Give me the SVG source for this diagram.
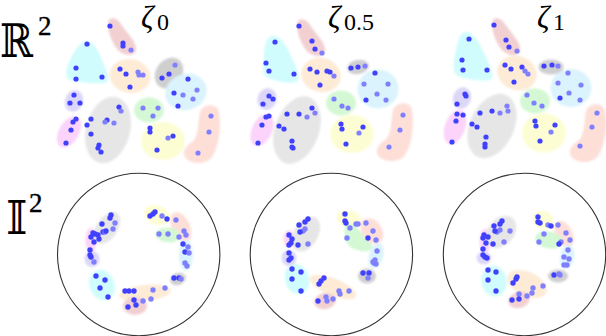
<svg xmlns="http://www.w3.org/2000/svg" width="606" height="336" viewBox="0 0 606 336">
<defs>
<filter id="soft" x="-20%" y="-20%" width="140%" height="140%"><feGaussianBlur stdDeviation="0.8"/></filter>
<style>
.blobs{filter:url(#soft)}
.ro{fill:#f2d0d2}.cy{fill:#d0fcfd}.or{fill:#fdebd6}.dg{fill:#cfcfcf}.lb{fill:#daf3fd}
.pu{fill:#dcd6f8}.gr{fill:#e6e6e6}.gn{fill:#d3f8d3}.ma{fill:#fbd3fb}.ye{fill:#fdfdd3}.sa{fill:#fddfd8}
.d{fill:#4040ff}.l{fill:#8080ff}
.top circle{r:2.6px}
.bot circle.d,.bot circle.l{r:2.7px}
.frame{fill:none;stroke:#333;stroke-width:1.1}
.lab{font-family:"DejaVu Serif","Liberation Serif",serif;fill:#000}
.zeta{font-family:"Liberation Serif","DejaVu Serif",serif;font-style:italic;fill:#000}
.sub{font-family:"Liberation Serif","DejaVu Serif",serif;fill:#000}
</style>
</defs>
<rect width="606" height="336" fill="#fff"/>

<g id="labels">
<text class="lab" x="0" y="57" font-size="46" textLength="33" lengthAdjust="spacingAndGlyphs">ℝ</text>
<text class="sub" x="38" y="35" font-size="27" stroke="#000" stroke-width="0.4">2</text>
<text class="lab" x="6" y="234" font-size="46">𝕀</text>
<text class="sub" x="29" y="212" font-size="27" stroke="#000" stroke-width="0.4">2</text>
<text class="zeta" x="141" y="28" font-size="31">ζ</text>
<text class="sub" x="157" y="30" font-size="24">0</text>
<text class="zeta" x="328" y="28" font-size="31">ζ</text>
<text class="sub" x="344" y="30" font-size="24">0.5</text>
<text class="zeta" x="537" y="28" font-size="31">ζ</text>
<text class="sub" x="553" y="30" font-size="24">1</text>
</g>

<!-- top row, zeta_0 -->
<g id="r2-z0" class="top">
<g class="blobs">
<path class="ro" d="M108,24 C108,16 117,17 121,24 C127,33 138,43 136,51 C134,57 122,56 117,49 C111,41 108,31 108,24 Z"/>
<path class="cy" d="M86,41 C93,40 98,50 103,62 C107,72 112,82 104,83 C94,84 78,82 70,80 C64,78 66,68 70,60 C75,50 80,42 86,41 Z"/>
<ellipse class="or" cx="130" cy="76" rx="20.5" ry="17" transform="rotate(10 130 76)"/>
<ellipse class="dg" cx="169" cy="73" rx="13" ry="16.5" transform="rotate(35 169 73)"/>
<ellipse class="lb" cx="186" cy="92" rx="21" ry="18" transform="rotate(-20 186 92)"/>
<ellipse class="pu" cx="74" cy="101" rx="9" ry="11" transform="rotate(20 74 101)"/>
<ellipse class="gr" cx="108" cy="130" rx="22" ry="34" transform="rotate(15 108 130)"/>
<ellipse class="gn" cx="149" cy="110" rx="15" ry="12.5"/>
<ellipse class="ma" cx="69" cy="132" rx="10" ry="17" transform="rotate(30 69 132)"/>
<ellipse class="ye" cx="163" cy="141" rx="22" ry="19"/>
<path class="sa" d="M200,112 C203,103 218,103 219,112 C221,125 220,145 212,157 C206,165 190,165 185,157 C181,150 188,145 194,140 C199,133 198,120 200,112 Z"/>
</g>
<g>
<circle class="d" cx="110" cy="26" r="2.4"/><circle class="d" cx="123" cy="43" r="2.4"/><circle class="d" cx="123" cy="46" r="2.4"/><circle class="l" cx="131" cy="50" r="2.4"/>
<circle class="d" cx="87" cy="44" r="2.4"/><circle class="d" cx="76" cy="68" r="2.4"/><circle class="d" cx="76" cy="79" r="2.4"/><circle class="d" cx="102" cy="77" r="2.4"/>
<circle class="d" cx="120" cy="69" r="2.4"/><circle class="d" cx="126" cy="74" r="2.4"/><circle class="l" cx="138" cy="72" r="2.4"/><circle class="l" cx="139" cy="75" r="2.4"/><circle class="l" cx="143" cy="75" r="2.4"/><circle class="d" cx="130" cy="87" r="2.4"/>
<circle class="l" cx="175" cy="65" r="2.4"/><circle class="d" cx="169" cy="74" r="2.4"/><circle class="d" cx="162" cy="78" r="2.4"/>
<circle class="d" cx="188" cy="79" r="2.4"/><circle class="l" cx="197" cy="90" r="2.4"/><circle class="d" cx="174" cy="93" r="2.4"/><circle class="l" cx="183" cy="95" r="2.4"/><circle class="l" cx="193" cy="99" r="2.4"/><circle class="d" cx="178" cy="106" r="2.4"/>
<circle class="d" cx="74" cy="95" r="2.4"/><circle class="d" cx="70" cy="103" r="2.4"/><circle class="d" cx="80" cy="103" r="2.4"/>
<circle class="d" cx="119" cy="107" r="2.4"/><circle class="l" cx="121" cy="111" r="2.4"/><circle class="d" cx="91" cy="119" r="2.4"/><circle class="d" cx="87" cy="125" r="2.4"/><circle class="d" cx="107" cy="120" r="2.4"/><circle class="l" cx="105" cy="122" r="2.4"/><circle class="l" cx="114" cy="123" r="2.4"/><circle class="d" cx="91" cy="134" r="2.4"/><circle class="d" cx="99" cy="145" r="2.4"/><circle class="d" cx="98" cy="148" r="2.4"/><circle class="d" cx="101" cy="152" r="2.4"/>
<circle class="l" cx="143" cy="108" r="2.4"/><circle class="l" cx="158" cy="108" r="2.4"/><circle class="l" cx="153" cy="116" r="2.4"/>
<circle class="d" cx="76" cy="119" r="2.4"/><circle class="d" cx="73" cy="122" r="2.4"/><circle class="d" cx="71" cy="130" r="2.4"/><circle class="d" cx="66" cy="143" r="2.4"/>
<circle class="d" cx="150" cy="128" r="2.4"/><circle class="d" cx="150" cy="132" r="2.4"/><circle class="d" cx="173" cy="136" r="2.4"/><circle class="l" cx="168" cy="138" r="2.4"/><circle class="d" cx="157" cy="150" r="2.4"/>
<circle class="l" cx="211" cy="116" r="2.4"/><circle class="l" cx="209" cy="132" r="2.4"/><circle class="l" cx="198" cy="153" r="2.4"/>
</g>
</g>

<!-- top row, zeta_0.5 -->
<g id="r2-z05" class="top">
<g class="blobs">
<path class="ro" transform="translate(189,1)" d="M108,24 C108,16 117,17 121,24 C127,33 138,43 136,51 C134,57 122,56 117,49 C111,41 108,31 108,24 Z"/>
<path class="cy" d="M272,36 C280,34 286,45 291,56 C296,66 302,80 296,82 C288,84 275,81 268,78 C261,75 263,62 264,54 C265,45 266,37 272,36 Z"/>
<ellipse class="or" cx="321" cy="75" rx="20" ry="17" transform="rotate(15 321 75)"/>
<ellipse class="dg" cx="358" cy="67" rx="11" ry="7" transform="rotate(-10 358 67)"/>
<ellipse class="lb" cx="378" cy="89" rx="20.5" ry="19.5"/>
<ellipse class="pu" cx="267" cy="99" rx="9.5" ry="11" transform="rotate(20 267 99)"/>
<ellipse class="gr" cx="297" cy="130" rx="22" ry="35" transform="rotate(20 297 130)"/>
<ellipse class="gn" cx="341" cy="103" rx="15" ry="12.5"/>
<ellipse class="ma" cx="262" cy="130" rx="10" ry="17" transform="rotate(25 262 130)"/>
<ellipse class="ye" cx="352" cy="134" rx="22" ry="19"/>
<path class="sa" transform="translate(193,-2)" d="M200,112 C203,103 218,103 219,112 C221,125 220,145 212,157 C206,165 190,165 185,157 C181,150 188,145 194,140 C199,133 198,120 200,112 Z"/>
</g>
<g>
<circle class="d" cx="299" cy="26" r="2.4"/><circle class="d" cx="312" cy="41" r="2.4"/><circle class="d" cx="315" cy="49" r="2.4"/><circle class="l" cx="322" cy="53" r="2.4"/>
<circle class="d" cx="275" cy="42" r="2.4"/><circle class="d" cx="266" cy="63" r="2.4"/><circle class="d" cx="269" cy="71" r="2.4"/><circle class="d" cx="294" cy="74" r="2.4"/>
<circle class="d" cx="310" cy="69" r="2.4"/><circle class="d" cx="317" cy="72" r="2.4"/><circle class="d" cx="327" cy="71" r="2.4"/><circle class="d" cx="330" cy="72" r="2.4"/><circle class="l" cx="334" cy="76" r="2.4"/><circle class="d" cx="320" cy="85" r="2.4"/>
<circle class="d" cx="351" cy="68" r="2.4"/><circle class="d" cx="358" cy="67" r="2.4"/><circle class="l" cx="365" cy="66" r="2.4"/>
<circle class="d" cx="375" cy="73" r="2.4"/><circle class="l" cx="364" cy="84" r="2.4"/><circle class="l" cx="388" cy="84" r="2.4"/><circle class="l" cx="377" cy="94" r="2.4"/><circle class="d" cx="366" cy="100" r="2.4"/><circle class="l" cx="386" cy="100" r="2.4"/>
<circle class="d" cx="269" cy="96" r="2.4"/><circle class="d" cx="273" cy="99" r="2.4"/><circle class="d" cx="263" cy="104" r="2.4"/>
<circle class="d" cx="312" cy="108" r="2.4"/><circle class="l" cx="315" cy="113" r="2.4"/><circle class="d" cx="287" cy="114" r="2.4"/><circle class="d" cx="299" cy="114" r="2.4"/><circle class="l" cx="307" cy="117" r="2.4"/><circle class="d" cx="279" cy="126" r="2.4"/><circle class="d" cx="284" cy="129" r="2.4"/><circle class="d" cx="292" cy="141" r="2.4"/><circle class="d" cx="292" cy="147" r="2.4"/><circle class="d" cx="293" cy="148" r="2.4"/>
<circle class="l" cx="334" cy="99" r="2.4"/><circle class="l" cx="342" cy="106" r="2.4"/><circle class="l" cx="348" cy="108" r="2.4"/>
<circle class="d" cx="269" cy="116" r="2.4"/><circle class="d" cx="266" cy="117" r="2.4"/><circle class="d" cx="262" cy="125" r="2.4"/><circle class="d" cx="258" cy="143" r="2.4"/>
<circle class="d" cx="341" cy="124" r="2.4"/><circle class="d" cx="342" cy="129" r="2.4"/><circle class="d" cx="363" cy="127" r="2.4"/><circle class="l" cx="359" cy="133" r="2.4"/><circle class="d" cx="346" cy="144" r="2.4"/>
<circle class="l" cx="403" cy="115" r="2.4"/><circle class="l" cx="400" cy="130" r="2.4"/><circle class="l" cx="389" cy="147" r="2.4"/>
</g>
</g>

<!-- top row, zeta_1 -->
<g id="r2-z1" class="top">
<g class="blobs">
<path class="ro" transform="translate(384,0)" d="M108,24 C108,16 117,17 121,24 C127,33 138,43 136,51 C134,57 122,56 117,49 C111,41 108,31 108,24 Z"/>
<path class="cy" d="M465,32 C473,31 479,42 484,53 C489,63 496,77 490,80 C482,82 468,79 460,77 C452,75 453,64 455,55 C457,45 459,33 465,32 Z"/>
<ellipse class="or" cx="517" cy="73" rx="20" ry="17" transform="rotate(20 517 73)"/>
<ellipse class="dg" cx="551" cy="67" rx="12.5" ry="7.5"/>
<ellipse class="lb" cx="571" cy="88" rx="20.5" ry="19"/>
<ellipse class="pu" cx="462" cy="98" rx="9" ry="11" transform="rotate(20 462 98)"/>
<ellipse class="gr" cx="492" cy="126" rx="22" ry="34" transform="rotate(25 492 126)"/>
<ellipse class="gn" cx="535" cy="101" rx="15" ry="12.5"/>
<ellipse class="ma" cx="455" cy="127" rx="10" ry="18" transform="rotate(20 455 127)"/>
<ellipse class="ye" cx="544" cy="133" rx="22" ry="19.5"/>
<path class="sa" transform="translate(386,-1)" d="M200,112 C203,103 218,103 219,112 C221,125 220,145 212,157 C206,165 190,165 185,157 C181,150 188,145 194,140 C199,133 198,120 200,112 Z"/>
</g>
<g>
<circle class="d" cx="494" cy="25" r="2.4"/><circle class="d" cx="506" cy="40" r="2.4"/><circle class="d" cx="509" cy="47" r="2.4"/><circle class="l" cx="517" cy="51" r="2.4"/>
<circle class="d" cx="469" cy="39" r="2.4"/><circle class="d" cx="462" cy="60" r="2.4"/><circle class="d" cx="463" cy="70" r="2.4"/><circle class="d" cx="487" cy="70" r="2.4"/>
<circle class="d" cx="505" cy="65" r="2.4"/><circle class="d" cx="511" cy="69" r="2.4"/><circle class="d" cx="522" cy="67" r="2.4"/><circle class="l" cx="525" cy="71" r="2.4"/><circle class="l" cx="528" cy="74" r="2.4"/><circle class="d" cx="514" cy="82" r="2.4"/>
<circle class="d" cx="544" cy="66" r="2.4"/><circle class="d" cx="552" cy="65" r="2.4"/><circle class="l" cx="558" cy="66" r="2.4"/>
<circle class="l" cx="568" cy="73" r="2.4"/><circle class="l" cx="558" cy="83" r="2.4"/><circle class="l" cx="581" cy="85" r="2.4"/><circle class="l" cx="569" cy="93" r="2.4"/><circle class="d" cx="560" cy="98" r="2.4"/><circle class="l" cx="580" cy="100" r="2.4"/>
<circle class="d" cx="465" cy="94" r="2.4"/><circle class="d" cx="466" cy="96" r="2.4"/><circle class="d" cx="457" cy="104" r="2.4"/>
<circle class="l" cx="507" cy="106" r="2.4"/><circle class="l" cx="508" cy="111" r="2.4"/><circle class="d" cx="492" cy="111" r="2.4"/><circle class="l" cx="500" cy="113" r="2.4"/><circle class="d" cx="480" cy="113" r="2.4"/><circle class="d" cx="472" cy="124" r="2.4"/><circle class="d" cx="477" cy="127" r="2.4"/><circle class="d" cx="486" cy="137" r="2.4"/><circle class="d" cx="485" cy="144" r="2.4"/><circle class="d" cx="485" cy="147" r="2.4"/>
<circle class="l" cx="527" cy="95" r="2.4"/><circle class="l" cx="534" cy="103" r="2.4"/><circle class="l" cx="542" cy="106" r="2.4"/>
<circle class="d" cx="457" cy="114" r="2.4"/><circle class="d" cx="463" cy="115" r="2.4"/><circle class="d" cx="456" cy="121" r="2.4"/><circle class="d" cx="452" cy="142" r="2.4"/>
<circle class="d" cx="535" cy="121" r="2.4"/><circle class="d" cx="536" cy="126" r="2.4"/><circle class="d" cx="555" cy="125" r="2.4"/><circle class="l" cx="551" cy="132" r="2.4"/><circle class="d" cx="540" cy="141" r="2.4"/>
<circle class="l" cx="597" cy="113" r="2.4"/><circle class="l" cx="592" cy="127" r="2.4"/><circle class="l" cx="580" cy="146" r="2.4"/>
</g>
</g>

<!-- bottom row, zeta_0 -->
<g id="i2-z0" class="bot">
<circle class="frame" cx="138.7" cy="254.5" r="81.2"/>
<g class="blobs">
<ellipse class="ye" cx="157" cy="215" rx="13.5" ry="9.5" transform="rotate(20 157 215)"/>
<ellipse class="sa" cx="181" cy="227" rx="9" ry="16" transform="rotate(-25 181 227)"/>
<ellipse class="gn" cx="168" cy="235" rx="12.5" ry="7.5" transform="rotate(5 168 235)"/>
<ellipse class="lb" cx="186" cy="255" rx="7" ry="15.5"/>
<ellipse class="dg" cx="178" cy="279" rx="8" ry="6" transform="rotate(-20 178 279)"/>
<ellipse class="or" cx="145" cy="293" rx="26" ry="8" transform="rotate(-6 145 293)"/>
<ellipse class="ro" cx="135" cy="306" rx="12" ry="9"/>
<ellipse class="cy" cx="102" cy="285" rx="12.5" ry="15.5" transform="rotate(-20 102 285)"/>
<ellipse class="pu" cx="92" cy="259" rx="7.5" ry="8"/>
<ellipse class="ma" cx="91" cy="240" rx="5.5" ry="12"/>
<ellipse class="gr" cx="107" cy="228" rx="10.5" ry="18" transform="rotate(35 107 228)"/>
</g>
<g>
<circle class="d" cx="155" cy="212" r="2.5"/><circle class="d" cx="153" cy="214" r="2.5"/><circle class="d" cx="150" cy="216" r="2.5"/><circle class="l" cx="162" cy="216" r="2.5"/><circle class="d" cx="167" cy="219" r="2.5"/>
<circle class="l" cx="176" cy="220" r="2.5"/><circle class="l" cx="184" cy="231" r="2.5"/><circle class="l" cx="186" cy="235" r="2.5"/>
<circle class="l" cx="159" cy="234" r="2.5"/><circle class="l" cx="168" cy="234" r="2.5"/><circle class="l" cx="179" cy="237" r="2.5"/>
<circle class="d" cx="183" cy="244" r="2.5"/><circle class="l" cx="188" cy="247" r="2.5"/><circle class="d" cx="185" cy="252" r="2.5"/><circle class="l" cx="189" cy="253" r="2.5"/><circle class="l" cx="185" cy="263" r="2.5"/><circle class="l" cx="187" cy="266" r="2.5"/>
<circle class="d" cx="174" cy="278" r="2.5"/><circle class="d" cx="179" cy="278" r="2.5"/><circle class="l" cx="181" cy="279" r="2.5"/>
<circle class="d" cx="125" cy="291" r="2.5"/><circle class="d" cx="129" cy="291" r="2.5"/><circle class="d" cx="134" cy="291" r="2.5"/><circle class="l" cx="153" cy="290" r="2.5"/><circle class="l" cx="165" cy="288" r="2.5"/><circle class="l" cx="151" cy="299" r="2.5"/><circle class="l" cx="143" cy="301" r="2.5"/>
<circle class="d" cx="134" cy="300" r="2.5"/><circle class="d" cx="136" cy="305" r="2.5"/><circle class="d" cx="128" cy="307" r="2.5"/>
<circle class="d" cx="96" cy="276" r="2.5"/><circle class="d" cx="105" cy="280" r="2.5"/><circle class="d" cx="100" cy="288" r="2.5"/><circle class="d" cx="108" cy="297" r="2.5"/>
<circle class="d" cx="90" cy="255" r="2.5"/><circle class="d" cx="91" cy="257" r="2.5"/><circle class="l" cx="94" cy="262" r="2.5"/>
<circle class="d" cx="93" cy="233" r="2.5"/><circle class="d" cx="95" cy="234" r="2.5"/><circle class="d" cx="91" cy="237" r="2.5"/><circle class="d" cx="94" cy="242" r="2.5"/><circle class="d" cx="90" cy="250" r="2.5"/>
<circle class="d" cx="111" cy="215" r="2.5"/><circle class="d" cx="110" cy="218" r="2.5"/><circle class="l" cx="115" cy="223" r="2.5"/><circle class="d" cx="102" cy="224" r="2.5"/><circle class="d" cx="103" cy="232" r="2.5"/><circle class="l" cx="105" cy="232" r="2.5"/><circle class="d" cx="106" cy="231" r="2.5"/><circle class="l" cx="113" cy="229" r="2.5"/><circle class="d" cx="99" cy="239" r="2.5"/><circle class="d" cx="98" cy="235" r="2.5"/>
</g>
</g>

<!-- bottom row, zeta_0.5 -->
<g id="i2-z05" class="bot">
<circle class="frame" cx="331.4" cy="254.5" r="81.2"/>
<g class="blobs">
<ellipse class="ye" cx="349" cy="219" rx="12.5" ry="8.5" transform="rotate(15 349 219)"/>
<path class="gn" d="M348,224 C355,222 360,232 366,238 C372,243 376,249 368,251 C358,252 346,248 345,238 C344,231 344,226 348,224 Z"/>
<ellipse class="sa" cx="372" cy="231" rx="10" ry="14" transform="rotate(-35 372 231)"/>
<ellipse class="lb" cx="376" cy="256" rx="7" ry="13" transform="rotate(15 376 256)"/>
<ellipse class="dg" cx="367" cy="276" rx="9" ry="7.5"/>
<ellipse class="or" cx="333" cy="287" rx="25" ry="8.5" transform="rotate(22 333 287)"/>
<ellipse class="ro" cx="325" cy="301" rx="11" ry="8" transform="rotate(-10 325 301)"/>
<ellipse class="cy" cx="297" cy="279" rx="12" ry="15.5" transform="rotate(-15 297 279)"/>
<ellipse class="pu" cx="289" cy="258" rx="7.5" ry="8"/>
<ellipse class="ma" cx="289" cy="239" rx="5.5" ry="9"/>
<ellipse class="gr" cx="306" cy="234" rx="12" ry="19" transform="rotate(30 306 234)"/>
</g>
<g>
<circle class="d" cx="345" cy="214" r="2.5"/><circle class="d" cx="345" cy="221" r="2.5"/><circle class="d" cx="346" cy="223" r="2.5"/><circle class="l" cx="356" cy="224" r="2.5"/><circle class="l" cx="358" cy="224" r="2.5"/>
<circle class="l" cx="350" cy="228" r="2.5"/><circle class="l" cx="347" cy="238" r="2.5"/>
<circle class="l" cx="366" cy="223" r="2.5"/><circle class="l" cx="373" cy="231" r="2.5"/><circle class="l" cx="376" cy="240" r="2.5"/><circle class="d" cx="368" cy="238" r="2.5"/>
<circle class="l" cx="377" cy="251" r="2.5"/><circle class="l" cx="375" cy="260" r="2.5"/><circle class="l" cx="374" cy="263" r="2.5"/><circle class="l" cx="376" cy="264" r="2.5"/><circle class="l" cx="373" cy="262" r="2.5"/>
<circle class="d" cx="363" cy="273" r="2.5"/><circle class="d" cx="369" cy="273" r="2.5"/><circle class="l" cx="368" cy="278" r="2.5"/>
<circle class="d" cx="324" cy="278" r="2.5"/><circle class="d" cx="321" cy="281" r="2.5"/><circle class="d" cx="319" cy="284" r="2.5"/><circle class="l" cx="339" cy="291" r="2.5"/><circle class="l" cx="340" cy="294" r="2.5"/><circle class="l" cx="349" cy="291" r="2.5"/>
<circle class="d" cx="318" cy="301" r="2.5"/><circle class="l" cx="326" cy="297" r="2.5"/><circle class="l" cx="327" cy="301" r="2.5"/><circle class="l" cx="333" cy="299" r="2.5"/>
<circle class="d" cx="292" cy="269" r="2.5"/><circle class="d" cx="301" cy="272" r="2.5"/><circle class="d" cx="292" cy="279" r="2.5"/><circle class="d" cx="301" cy="291" r="2.5"/>
<circle class="d" cx="289" cy="253" r="2.5"/><circle class="d" cx="291" cy="258" r="2.5"/><circle class="d" cx="289" cy="260" r="2.5"/>
<circle class="d" cx="289" cy="235" r="2.5"/><circle class="d" cx="292" cy="239" r="2.5"/><circle class="d" cx="289" cy="245" r="2.5"/><circle class="d" cx="291" cy="243" r="2.5"/>
<circle class="d" cx="308" cy="219" r="2.5"/><circle class="d" cx="305" cy="222" r="2.5"/><circle class="d" cx="299" cy="225" r="2.5"/><circle class="l" cx="305" cy="229" r="2.5"/><circle class="l" cx="303" cy="231" r="2.5"/><circle class="d" cx="300" cy="232" r="2.5"/><circle class="d" cx="298" cy="245" r="2.5"/><circle class="l" cx="308" cy="244" r="2.5"/>
</g>
</g>

<!-- bottom row, zeta_1 -->
<g id="i2-z1" class="bot">
<circle class="frame" cx="524.5" cy="254.5" r="81.2"/>
<g class="blobs">
<ellipse class="ye" cx="543" cy="220" rx="10.5" ry="9" transform="rotate(20 543 220)"/>
<ellipse class="sa" cx="564" cy="234" rx="8.5" ry="14" transform="rotate(-25 564 234)"/>
<ellipse class="gn" cx="549" cy="240" rx="14" ry="8.5" transform="rotate(10 549 240)"/>
<ellipse class="lb" cx="567" cy="257" rx="7" ry="12" transform="rotate(10 567 257)"/>
<ellipse class="dg" cx="558" cy="276" rx="10" ry="6.5"/>
<ellipse class="or" cx="527" cy="284" rx="21" ry="12" transform="rotate(25 527 284)"/>
<ellipse class="ro" cx="519" cy="300" rx="11" ry="8" transform="rotate(-15 519 300)"/>
<ellipse class="cy" cx="494" cy="281" rx="12.5" ry="15.5" transform="rotate(-10 494 281)"/>
<ellipse class="pu" cx="484" cy="258" rx="7.5" ry="6.5"/>
<ellipse class="ma" cx="485" cy="241" rx="5.5" ry="12"/>
<ellipse class="gr" cx="501" cy="232" rx="13" ry="18" transform="rotate(40 501 232)"/>
</g>
<g>
<circle class="d" cx="538" cy="217" r="2.5"/><circle class="d" cx="538" cy="222" r="2.5"/><circle class="d" cx="540" cy="223" r="2.5"/><circle class="l" cx="548" cy="225" r="2.5"/><circle class="d" cx="551" cy="226" r="2.5"/>
<circle class="l" cx="558" cy="225" r="2.5"/><circle class="l" cx="566" cy="233" r="2.5"/><circle class="l" cx="570" cy="240" r="2.5"/><circle class="l" cx="561" cy="242" r="2.5"/>
<circle class="l" cx="544" cy="234" r="2.5"/><circle class="l" cx="539" cy="242" r="2.5"/><circle class="d" cx="559" cy="244" r="2.5"/>
<circle class="l" cx="568" cy="250" r="2.5"/><circle class="l" cx="564" cy="257" r="2.5"/><circle class="l" cx="569" cy="259" r="2.5"/><circle class="l" cx="564" cy="265" r="2.5"/><circle class="l" cx="567" cy="265" r="2.5"/>
<circle class="d" cx="554" cy="275" r="2.5"/><circle class="l" cx="559" cy="274" r="2.5"/><circle class="l" cx="560" cy="275" r="2.5"/>
<circle class="d" cx="517" cy="277" r="2.5"/><circle class="d" cx="516" cy="279" r="2.5"/><circle class="d" cx="513" cy="283" r="2.5"/><circle class="l" cx="533" cy="288" r="2.5"/><circle class="l" cx="532" cy="293" r="2.5"/><circle class="l" cx="543" cy="286" r="2.5"/>
<circle class="d" cx="512" cy="300" r="2.5"/><circle class="l" cx="519" cy="294" r="2.5"/><circle class="d" cx="519" cy="299" r="2.5"/><circle class="l" cx="527" cy="296" r="2.5"/>
<circle class="d" cx="488" cy="270" r="2.5"/><circle class="d" cx="496" cy="272" r="2.5"/><circle class="d" cx="488" cy="280" r="2.5"/><circle class="d" cx="496" cy="291" r="2.5"/>
<circle class="d" cx="483" cy="255" r="2.5"/><circle class="d" cx="485" cy="257" r="2.5"/><circle class="d" cx="487" cy="258" r="2.5"/>
<circle class="d" cx="484" cy="235" r="2.5"/><circle class="d" cx="488" cy="237" r="2.5"/><circle class="d" cx="483" cy="238" r="2.5"/><circle class="d" cx="486" cy="243" r="2.5"/><circle class="d" cx="483" cy="249" r="2.5"/>
<circle class="d" cx="502" cy="221" r="2.5"/><circle class="d" cx="500" cy="224" r="2.5"/><circle class="d" cx="494" cy="226" r="2.5"/><circle class="l" cx="500" cy="230" r="2.5"/><circle class="l" cx="497" cy="232" r="2.5"/><circle class="d" cx="495" cy="231" r="2.5"/><circle class="l" cx="510" cy="231" r="2.5"/><circle class="d" cx="493" cy="244" r="2.5"/><circle class="l" cx="504" cy="242" r="2.5"/>
</g>
</g>
</svg>
